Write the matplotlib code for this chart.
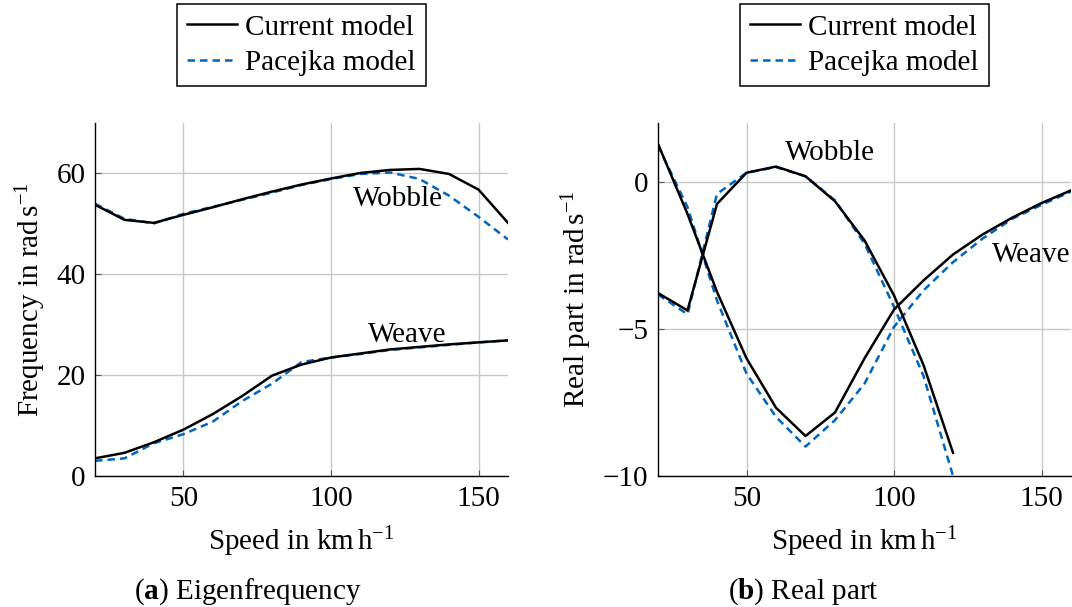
import matplotlib

matplotlib.use("Agg")
import matplotlib.pyplot as plt

plt.rcParams["font.family"] = ["Liberation Serif", "DejaVu Serif"]
plt.rcParams["mathtext.fontset"] = "custom"
plt.rcParams["mathtext.rm"] = "Liberation Serif"
plt.rcParams["mathtext.it"] = "Liberation Serif:italic"
plt.rcParams["mathtext.bf"] = "Liberation Serif:bold"
plt.rcParams["font.size"] = 21

# speed grid (km/h)
speed = [20, 30, 40, 50, 60, 70, 80, 90, 100, 110, 120, 130, 140, 150, 160]

# eigenfrequencies (rad/s)
wobble_freq_cur = [53.8, 50.8, 50.2, 51.8, 53.3, 54.9, 56.4, 57.8, 59.0, 60.1, 60.7, 60.9, 59.9, 56.8, 50.2]
wobble_freq_pac = [54.0, 51.0, 50.1, 52.0, 53.4, 54.8, 56.2, 57.7, 58.9, 59.9, 60.2, 58.9, 55.6, 51.4, 46.9]
weave_freq_cur = [3.5, 4.6, 6.7, 9.2, 12.3, 15.9, 19.9, 22.1, 23.5, 24.3, 25.1, 25.6, 26.1, 26.5, 26.9]
weave_freq_pac = [3.0, 3.5, 6.5, 8.3, 10.8, 14.9, 18.3, 22.6, 23.5, 24.2, 25.0, 25.5, 26.0, 26.5, 26.9]

# real parts (rad/s); wobble only computed up to 120 km/h
speed_wobble = [20, 30, 40, 50, 60, 70, 80, 90, 100, 110, 120]
wobble_real_cur = [-3.78, -4.37, -0.75, 0.31, 0.52, 0.19, -0.66, -1.99, -3.86, -6.23, -9.21]
wobble_real_pac = [-3.83, -4.50, -0.41, 0.31, 0.50, 0.19, -0.63, -2.10, -4.25, -6.60, -10.0]
weave_real_cur = [1.29, -1.09, -3.74, -6.00, -7.68, -8.64, -7.84, -6.00, -4.34, -3.35, -2.47, -1.79, -1.22, -0.72, -0.29]
weave_real_pac = [1.23, -0.86, -4.03, -6.52, -7.99, -9.00, -8.10, -6.86, -4.93, -3.69, -2.73, -1.93, -1.26, -0.78, -0.33]

BLUE = "#0065BD"


def style_axes(ax):
    for side in ("top", "right"):
        ax.spines[side].set_visible(False)
    ax.spines["left"].set_linewidth(1.0)
    ax.spines["bottom"].set_linewidth(1.0)
    ax.grid(True, color="#c8c8c8", linewidth=1.0)
    ax.set_axisbelow(True)
    ax.tick_params(direction="in", length=4, width=0.8, color="#555555", pad=7)


def draw(ax, x_w, w_cur, w_pac, x_v, v_cur, v_pac):
    ax.plot(x_w, w_cur, color="black", lw=1.8, label="Current model", zorder=3)
    ax.plot(x_w, w_pac, color=BLUE, lw=1.8, dashes=(3.0, 2.0), label="Pacejka model", zorder=2)
    ax.plot(x_v, v_cur, color="black", lw=1.8, zorder=3)
    ax.plot(x_v, v_pac, color=BLUE, lw=1.8, dashes=(3.0, 2.0), zorder=2)
    ax.legend(loc="lower center", bbox_to_anchor=(0.5, 1.105), frameon=True, fancybox=False,
              edgecolor="black", framealpha=1, handlelength=1.7, handletextpad=0.3,
              labelspacing=0.3, borderpad=0.35, borderaxespad=0)
    ax.get_legend().get_frame().set_linewidth(1.1)


fig = plt.figure(figsize=(10.72, 6.07), dpi=100)
ax1 = fig.add_axes([0.0886, 0.2158, 0.3853, 0.5815])
ax2 = fig.add_axes([0.6138, 0.2158, 0.3853, 0.5815])

# (a) eigenfrequency
style_axes(ax1)
draw(ax1, speed, wobble_freq_cur, wobble_freq_pac, speed, weave_freq_cur, weave_freq_pac)
ax1.set_xlim(20, 160)
ax1.set_ylim(0, 70)
ax1.set_xticks([50, 100, 150])
ax1.set_yticks([0, 20, 40, 60])
ax1.text(122.7, 54.9, "Wobble", ha="center", va="center")
ax1.text(126, 28.0, "Weave", ha="center", va="center")
ax1.set_xlabel(r"Speed in km$\,$h$^{-1}$", labelpad=9)
ax1.set_ylabel(r"Frequency in rad$\,$s$^{-1}$", labelpad=6)

# (b) real part
style_axes(ax2)
draw(ax2, speed_wobble, wobble_real_cur, wobble_real_pac, speed, weave_real_cur, weave_real_pac)
ax2.set_xlim(20, 160)
ax2.set_ylim(-10, 2)
ax2.set_xticks([50, 100, 150])
ax2.set_yticks([-10, -5, 0])
ax2.text(78.2, 0.97, "Wobble", ha="center", va="center")
ax2.text(146.6, -2.5, "Weave", ha="center", va="center")
ax2.set_xlabel(r"Speed in km$\,$h$^{-1}$", labelpad=9)
ax2.set_ylabel(r"Real part in rad$\,$s$^{-1}$", labelpad=6)

fig.text(0.231, 0.025, r"($\mathbf{a}$) Eigenfrequency", ha="center", va="center")
fig.text(0.749, 0.025, r"($\mathbf{b}$) Real part", ha="center", va="center")

fig.savefig("out.png", dpi=100)
